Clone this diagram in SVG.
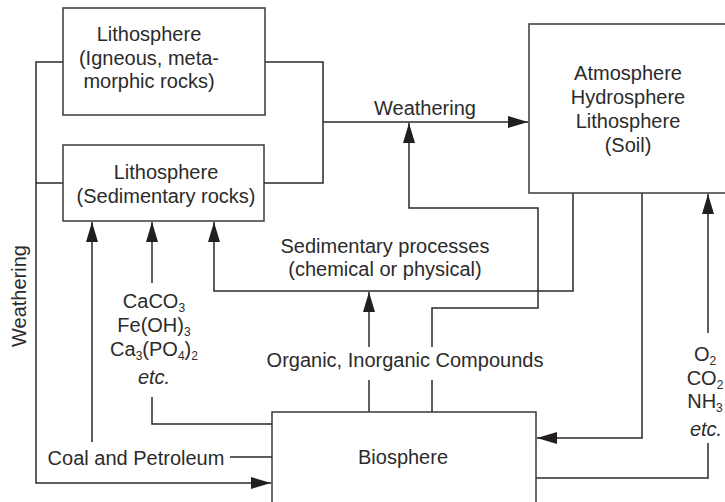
<svg xmlns="http://www.w3.org/2000/svg" width="725" height="502" viewBox="0 0 725 502">
<style>
.box{fill:#fff;stroke:#3a3a3a;stroke-width:1.5}
.ln{fill:none;stroke:#2a2a2a;stroke-width:1.5}
text{font-family:"Liberation Sans",Arial,sans-serif;font-size:20px;fill:#2b2b2b;text-anchor:middle}
.it{font-style:italic}
.sb{font-size:12px}
</style>
<defs>
<marker id="ah" markerUnits="userSpaceOnUse" markerWidth="20" markerHeight="12" refX="20" refY="6" orient="auto">
<path d="M0,0 L20,6 L0,12 z" fill="#231f20"/>
</marker>
</defs>
<rect width="725" height="502" fill="#fff"/>
<g id="connectors">
<path class="ln" d="M63,62 H36 V483 H271" marker-end="url(#ah)"/>
<path class="ln" d="M63,183 H36"/>
<path class="ln" d="M265,62 H323 V183 H264"/>
<path class="ln" d="M323,122 H528" marker-end="url(#ah)"/>
<path class="ln" d="M432,412 V380"/>
<path class="ln" d="M432,347 V308 H538 V208 H409 V123" marker-end="url(#ah)"/>
<path class="ln" d="M369,412 V380"/>
<path class="ln" d="M369,347 V292" marker-end="url(#ah)"/>
<path class="ln" d="M573,193 V291 H214 V222" marker-end="url(#ah)"/>
<path class="ln" d="M642,193 V438 H537" marker-end="url(#ah)"/>
<path class="ln" d="M536,478 H708 V443"/>
<path class="ln" d="M708,333 V194" marker-end="url(#ah)"/>
<path class="ln" d="M272,457 H230"/>
<path class="ln" d="M92,442 V222" marker-end="url(#ah)"/>
<path class="ln" d="M272,424 H152 V397"/>
<path class="ln" d="M152,283 V222" marker-end="url(#ah)"/>
</g>
<g id="lithosphere-igneous">
<rect class="box" x="63" y="8" width="202" height="107"/>
<text x="149" y="41">Lithosphere</text>
<text x="149" y="65">(Igneous, meta-</text>
<text x="149" y="88">morphic rocks)</text>
</g>
<g id="lithosphere-sedimentary">
<rect class="box" x="63" y="145" width="201" height="76"/>
<text x="166" y="179">Lithosphere</text>
<text x="166" y="203">(Sedimentary rocks)</text>
</g>
<g id="atmosphere">
<rect class="box" x="529" y="24" width="205" height="169"/>
<text x="628" y="80">Atmosphere</text>
<text x="628" y="104">Hydrosphere</text>
<text x="628" y="128">Lithosphere</text>
<text x="628" y="152">(Soil)</text>
</g>
<g id="biosphere">
<rect class="box" x="272" y="412" width="264" height="100"/>
<text x="403" y="464">Biosphere</text>
</g>
<g id="labels">
<text x="425" y="115">Weathering</text>
<text transform="translate(26,296) rotate(-90)">Weathering</text>
<text x="385" y="253">Sedimentary processes</text>
<text x="385" y="276">(chemical or physical)</text>
<text x="405" y="367">Organic, Inorganic Compounds</text>
<text x="136" y="465">Coal and Petroleum</text>
<text x="154" y="308">CaCO<tspan class="sb" dy="4">3</tspan></text>
<text x="154" y="332">Fe(OH)<tspan class="sb" dy="4">3</tspan></text>
<text x="154" y="356">Ca<tspan class="sb" dy="4">3</tspan><tspan dy="-4">(PO</tspan><tspan class="sb" dy="4">4</tspan><tspan dy="-4">)</tspan><tspan class="sb" dy="4">2</tspan></text>
<text class="it" x="154" y="384">etc.</text>
<text x="705" y="361">O<tspan class="sb" dy="4">2</tspan></text>
<text x="705" y="385">CO<tspan class="sb" dy="4">2</tspan></text>
<text x="705" y="408">NH<tspan class="sb" dy="4">3</tspan></text>
<text class="it" x="706" y="436">etc.</text>
</g>
</svg>
